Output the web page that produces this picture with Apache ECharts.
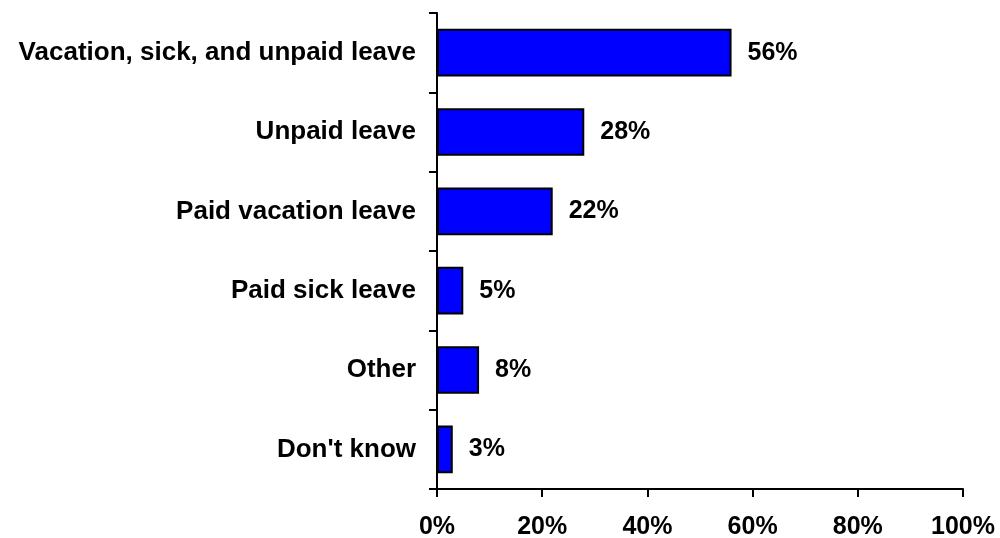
<!DOCTYPE html>
<html>
<head>
<meta charset="utf-8">
<script src="https://cdn.jsdelivr.net/npm/echarts@6/dist/echarts.min.js"></script>
<style>html,body{margin:0;padding:0;background:#fff;}#c{width:1000px;height:538px;}</style>
</head>
<body>
<div id="c"></div>
<script>
const categories = ["Vacation, sick, and unpaid leave", "Unpaid leave", "Paid vacation leave", "Paid sick leave", "Other", "Don't know"];
const values = [56, 28, 22, 5, 8, 3];
const xTicks = [0, 20, 40, 60, 80, 100];

const FONT = '"Liberation Sans", Arial, sans-serif';
const chart = echarts.init(document.getElementById('c'), null, {renderer: 'canvas'});
chart.setOption({
  animation: false,
  backgroundColor: '#fff',
  grid: {left: 437, right: 37, top: 13, bottom: 49, containLabel: false, outerBoundsMode: 'none'},
  xAxis: {
    type: 'value', min: xTicks[0], max: xTicks[xTicks.length - 1], interval: xTicks[1] - xTicks[0],
    axisLine: {show: true, lineStyle: {color: '#000', width: 2}},
    axisTick: {show: true, length: 8, lineStyle: {color: '#000', width: 2}},
    splitLine: {show: false},
    axisLabel: {formatter: v => v + '%', color: '#000', fontWeight: 'bold', fontSize: 25, fontFamily: FONT, margin: 26}
  },
  yAxis: {
    type: 'category', data: categories, inverse: true,
    axisLine: {show: true, lineStyle: {color: '#000', width: 2}},
    axisTick: {show: true, length: 8, lineStyle: {color: '#000', width: 2}},
    axisLabel: {color: '#000', fontWeight: 'bold', fontSize: 26, fontFamily: FONT, margin: 21}
  },
  series: [{
    type: 'bar', data: values, barCategoryGap: '40%',
    itemStyle: {color: '#0000FF', borderColor: '#000', borderWidth: 2},
    label: {show: true, position: 'right', distance: 16, formatter: p => p.value + '%', color: '#000', fontWeight: 'bold', fontSize: 25, fontFamily: FONT}
  }]
});
</script>
</body>
</html>
